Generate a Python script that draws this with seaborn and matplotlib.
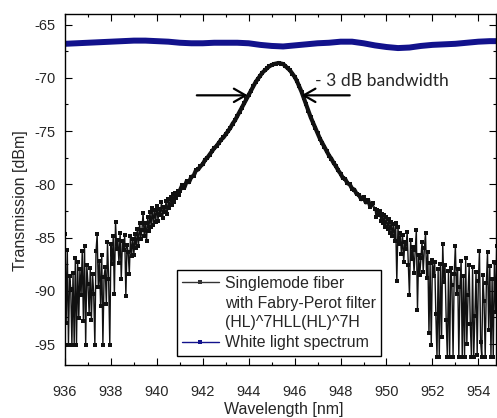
import numpy as np
import matplotlib
matplotlib.use('Agg')
import matplotlib.pyplot as plt
from matplotlib.lines import Line2D
from matplotlib.ticker import MultipleLocator
import seaborn as sns

# Filter transmission in three pieces (nm start, nm step, dBm values)
left_start, left_step = 936.0, 0.05
left_tail = [
    -84.7, -93.0, -86.2, -95.1, -88.6, -89.8, -95.1, -88.3, -95.1, -86.9,
    -95.1, -87.3, -92.6, -88.0, -90.4, -86.3, -92.8, -85.8, -95.1, -87.6,
    -89.4, -92.2, -87.9, -92.7, -88.4, -90.3, -95.1, -86.3, -84.7, -89.6,
    -87.2, -91.4, -86.6, -95.1, -88.7, -87.8, -91.2, -85.4, -88.9, -95.1,
    -85.6, -87.5, -84.9, -90.3, -83.5, -86.1, -85.2, -87.4, -84.6, -88.9,
    -85.3, -86.2, -84.8, -90.5, -85.7, -86.4, -88.4, -84.9, -86.7, -85.1,
    -86.6, -84.7, -86.0, -84.2, -85.8, -83.6, -85.1, -84.3, -82.7, -84.9,
    -83.6, -85.3, -83.1, -84.4, -82.6, -84.0, -82.2, -83.8, -82.4, -83.5,
    -82.0, -83.4, -82.3, -82.9, -81.7, -83.2, -82.1, -82.6, -81.6, -82.8,
    -81.4, -82.2, -81.2, -81.9, -80.9, -81.7, -80.8, -81.3, -80.6, -81.0,
]
peak_start, peak_step = 941.0, 0.1
peak_part = [
    -80.6, -80.1, -80.3, -79.7, -79.8, -79.3, -79.2, -78.7, -78.6, -78.3,
    -78.1, -77.7, -77.5, -77.2, -76.9, -76.6, -76.4, -76.1, -75.8, -75.6,
    -75.3, -75.0, -74.7, -74.3, -74.0, -73.6, -73.2, -72.8, -72.4, -72.0,
    -71.6, -71.2, -70.8, -70.4, -70.1, -69.8, -69.5, -69.3, -69.1, -68.9,
    -68.8, -68.7, -68.65, -68.6, -68.65, -68.7, -68.9, -69.1, -69.3, -69.6,
    -69.9, -70.3, -70.8, -71.3, -71.9, -72.5, -73.1, -73.7, -74.2, -74.7,
    -75.2, -75.7, -76.1, -76.5, -76.9, -77.3, -77.6, -78.0, -78.3, -78.7,
    -79.0, -79.4, -79.5, -79.9, -80.0, -80.4, -80.5, -80.9, -81.0, -81.4,
    -81.2, -81.7, -81.5, -82.1, -81.8,
]
right_start, right_step = 949.5, 0.05
right_tail = [
    -82.3, -83.1, -82.4, -82.9, -82.5, -83.4, -82.8, -83.6, -82.9, -84.0,
    -83.1, -84.2, -83.3, -84.6, -83.5, -84.9, -83.7, -85.3, -83.6, -89.1,
    -84.0, -85.6, -84.6, -86.5, -84.8, -87.3, -85.4, -86.1, -84.5, -87.6,
    -90.4, -85.2, -87.0, -85.9, -88.3, -86.2, -84.3, -91.8, -86.6, -88.5,
    -86.9, -85.4, -88.2, -86.0, -84.6, -88.8, -86.4, -94.0, -87.4, -95.1,
    -87.1, -88.6, -87.3, -92.2, -96.2, -88.0, -96.2, -87.5, -94.3, -85.6,
    -89.2, -87.6, -92.7, -96.2, -88.1, -96.2, -87.9, -89.5, -96.2, -88.4,
    -85.8, -90.3, -88.0, -96.2, -89.6, -87.2, -96.2, -88.6, -96.2, -86.9,
    -95.0, -90.4, -87.6, -93.1, -96.2, -87.8, -96.2, -92.4, -88.2, -96.0,
    -89.1, -86.3, -94.8, -96.2, -88.5, -91.0, -96.2, -89.3, -86.4, -93.7,
    -87.7, -96.2, -88.9, -96.2, -87.3, -92.0, -85.8,
]

# White light spectrum
white_wl = [936.0, 936.5, 937.0, 937.5, 938.0, 938.5, 939.0, 939.5, 940.0, 940.5,
            941.0, 941.5, 942.0, 942.5, 943.0, 943.5, 944.0, 944.5, 945.0, 945.5,
            946.0, 946.5, 947.0, 947.5, 948.0, 948.5, 949.0, 949.5, 950.0, 950.5,
            951.0, 951.5, 952.0, 952.5, 953.0, 953.5, 954.0, 954.5, 955.0]
white_db = [-66.8, -66.75, -66.7, -66.65, -66.6, -66.55, -66.5, -66.5, -66.55, -66.6,
            -66.7, -66.75, -66.75, -66.7, -66.7, -66.7, -66.75, -66.9, -67.0, -67.05,
            -66.95, -66.85, -66.75, -66.7, -66.6, -66.6, -66.75, -66.95, -67.1, -67.2,
            -67.15, -67.0, -66.9, -66.85, -66.8, -66.7, -66.6, -66.55, -66.55]

# -3 dB bandwidth marker positions (nm) and level (dBm)
bw_left, bw_right, bw_level = 943.96, 946.3, -71.64


def grid(start, step, vals):
    return np.round(start + step * np.arange(len(vals)), 3)


peak_wl = grid(peak_start, peak_step, peak_part)
fiber_wl = np.concatenate([grid(left_start, left_step, left_tail),
                           peak_wl,
                           grid(right_start, right_step, right_tail)])
fiber_db = np.array(left_tail + peak_part + right_tail)

sns.set_style('ticks')
plt.rcParams['font.family'] = ['Liberation Sans', 'DejaVu Sans']
plt.rcParams['axes.unicode_minus'] = False

fig = plt.figure(figsize=(4.97, 4.18), dpi=100)
ax = fig.add_axes([0.1308, 0.1261, 0.8672, 0.8404])

navy = '#12128c'
sns.lineplot(x=white_wl, y=white_db, color=navy, linewidth=4.3, ax=ax, errorbar=None)
sns.lineplot(x=fiber_wl, y=fiber_db, color='#111111', linewidth=1.0, marker='s',
             markersize=2.6, markeredgewidth=0, ax=ax, errorbar=None)
# dense part of the measurement reads as one thick trace
sns.lineplot(x=peak_wl, y=peak_part, color='#111111', linewidth=3.0, ax=ax, errorbar=None)

ax.set_xlim(936, 954.77)
ax.set_ylim(-97, -64)
ax.xaxis.set_major_locator(MultipleLocator(2))
ax.xaxis.set_minor_locator(MultipleLocator(1))
ax.yaxis.set_major_locator(MultipleLocator(5))
ax.yaxis.set_minor_locator(MultipleLocator(2.5))
ax.tick_params(which='both', direction='in', top=True, right=True, width=0.8, color='black')
ax.tick_params(which='major', length=4.8)
ax.tick_params(which='minor', length=2.5)
ax.tick_params(axis='x', which='major', labelsize=10.5, pad=14)
ax.tick_params(axis='y', which='major', labelsize=10.5, pad=7)
for sp in ax.spines.values():
    sp.set_visible(True)
    sp.set_linewidth(1.0)
    sp.set_color('black')

ax.set_xlabel('Wavelength [nm]', fontsize=11.5)
ax.set_ylabel('Transmission [dBm]', fontsize=11.5)
ax.xaxis.set_label_coords(0.507, -0.104)
ax.yaxis.set_label_coords(-0.085, 0.468)

# bandwidth arrows
arrow_kw = dict(arrowstyle='->,head_length=0.7,head_width=0.4', lw=1.6, color='black',
                mutation_scale=12, shrinkA=0, shrinkB=0)
ax.annotate('', xy=(bw_left, bw_level), xytext=(bw_left - 2.22, bw_level), arrowprops=arrow_kw)
ax.annotate('', xy=(bw_right, bw_level), xytext=(bw_right + 2.1, bw_level), arrowprops=arrow_kw)
ax.text(bw_right + 0.57, -70.3, '- 3 dB bandwidth', family=['Lato', 'DejaVu Sans'],
        fontsize=12.6, ha='left', va='center')

handles = [
    Line2D([], [], color='#333333', lw=1.0, marker='s', markersize=2.6, markeredgewidth=0),
    Line2D([], [], ls='none'),
    Line2D([], [], ls='none'),
    Line2D([], [], color=navy, lw=1.0, marker='s', markersize=2.6, markeredgewidth=0),
]
labels = ['Singlemode fiber', 'with Fabry-Perot filter', '(HL)^7HLL(HL)^7H', 'White light spectrum']
leg = ax.legend(handles, labels, loc='upper left', bbox_to_anchor=(0.259, 0.2704),
                borderaxespad=0, fontsize=11.4, handlelength=2.3, handletextpad=0.38,
                borderpad=0.35, labelspacing=0.3, fancybox=False, framealpha=1,
                edgecolor='black')
leg.get_frame().set_linewidth(1.0)

fig.savefig('out.png', dpi=100)
